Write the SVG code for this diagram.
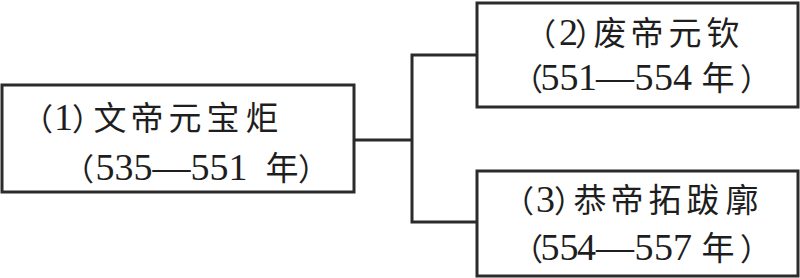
<svg xmlns="http://www.w3.org/2000/svg" width="800" height="278" viewBox="0 0 800 278">
<style>
.box{fill:#fff;stroke:#2b2b2b;stroke-width:3}
.conn{fill:none;stroke:#2b2b2b;stroke-width:3}
text{font-family:"Noto Sans CJK SC",sans-serif;font-size:31px;fill:#1e1e1e}
.c{font-size:33px}
.d{font-family:"Liberation Serif",serif;font-size:38px}
</style>
<rect width="800" height="278" fill="#fff"/>
<g id="connectors">
<polyline class="conn" points="354,140 412,140"/>
<polyline class="conn" points="477,55 412,55 412,222 477,222"/>
</g>
<g id="node1">
<rect class="box" x="2" y="85" width="352" height="107"/>
<text y="130"><tspan x="22">（</tspan><tspan class="d" x="54">1</tspan><tspan x="72">）</tspan><tspan class="c" x="93.5 130.5 168.5 206.5 245.5">文帝元宝炬</tspan></text>
<text y="180"><tspan x="63">（</tspan><tspan class="d" x="95.5 114.5 133.5 152.5 190.5 209.5 228.5 248">535—551 </tspan><tspan class="c" x="265.5">年</tspan><tspan x="298">）</tspan></text>
</g>
<g id="node2">
<rect class="box" x="477" y="3" width="321" height="104"/>
<text y="45"><tspan x="525">（</tspan><tspan class="d" x="559">2</tspan><tspan x="575">）</tspan><tspan class="c" x="593.5 630.5 668.5 706.5">废帝元钦</tspan></text>
<text y="90"><tspan x="512">（</tspan><tspan class="d" x="540.5 559.5 578 596 634.5 654 673 692">551—554 </tspan><tspan class="c" x="701.5">年</tspan><tspan x="740">）</tspan></text>
</g>
<g id="node3">
<rect class="box" x="477" y="171" width="321" height="105"/>
<text y="212"><tspan x="503">（</tspan><tspan class="d" x="536">3</tspan><tspan x="554">）</tspan><tspan class="c" x="573.5 610.5 648.5 686.5 725.5">恭帝拓跋廓</tspan></text>
<text y="260"><tspan x="512">（</tspan><tspan class="d" x="540.5 559.5 577 596 634.5 654 673 692">554—557 </tspan><tspan class="c" x="701.5">年</tspan><tspan x="740">）</tspan></text>
</g>
</svg>
